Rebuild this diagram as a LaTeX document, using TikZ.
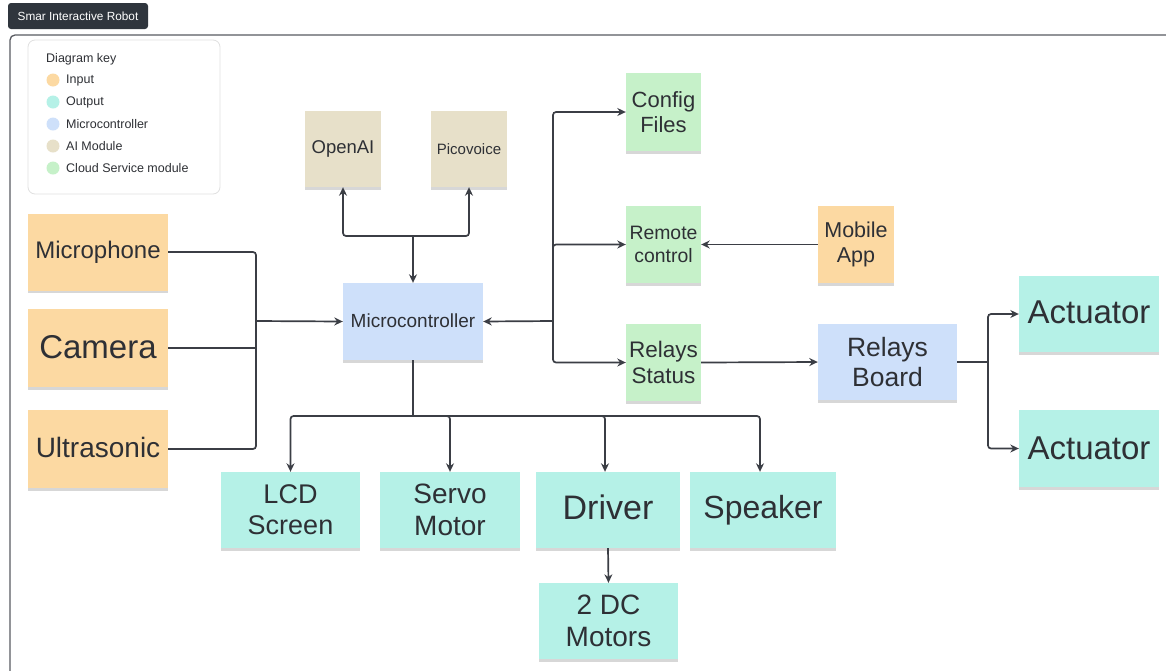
\documentclass[tikz,border=0pt]{standalone}
\usepackage{fontspec}
\setmainfont{Liberation Sans}
\usetikzlibrary{arrows.meta,shadows}
\definecolor{inC}{HTML}{FCD9A2}
\definecolor{outC}{HTML}{B5F1E7}
\definecolor{mcC}{HTML}{CEE0FA}
\definecolor{aiC}{HTML}{E7E0C9}
\definecolor{clC}{HTML}{C6F1C9}
\definecolor{lineC}{HTML}{3B3E45}
\definecolor{txtC}{HTML}{2E3035}
\definecolor{titleC}{HTML}{2F353D}
\newcommand{\fs}[1]{\fontsize{#1}{\fpeval{#1*1.15}}\selectfont}
\tikzset{
  note/.style={draw=none, inner sep=0pt, align=center, text=txtC,
    drop shadow={shadow xshift=-0.5pt, shadow yshift=-2.5pt, opacity=0.22, fill=black!70}},
  innote/.style={note, fill=inC},
  outnote/.style={note, fill=outC},
  mcnote/.style={note, fill=mcC},
  ainote/.style={note, fill=aiC},
  clnote/.style={note, fill=clC},
  conn/.style={draw=lineC, line width=1.7pt, rounded corners=3pt},
  arr/.style={conn, -{Stealth[length=8.5pt,width=8pt]}},
  keydot/.style={circle, inner sep=0pt, minimum size=13pt},
  keytxt/.style={anchor=west, inner sep=0pt, text=txtC, font=\fs{12.5}}
}
\begin{document}
\begin{tikzpicture}[x=1pt,y=-1pt]
\useasboundingbox (0,0) rectangle (1166,670);
\clip (0,0) rectangle (1166,670);
\fill[white] (0,0) rectangle (1166,670);
% title
\node[fill=titleC, rounded corners=3pt, text=white, font=\fs{11.8}, minimum width=140pt, minimum height=26pt, inner sep=0pt] (title) at (78,16) {Smar Interactive Robot};
% frame
\draw[draw=lineC!85, line width=1.3pt, rounded corners=5pt] (10,35) rectangle (1200,700);
% legend
\node[draw=black!12, line width=0.8pt, rounded corners=7pt, fill=white, minimum width=192pt, minimum height=154pt, inner sep=0pt] (key) at (124,117) {};
\node[keytxt] (keyt) at (46,59) {Diagram key};
\node[keydot, fill=inC] (d1) at (53,80) {};
\node[keytxt] (k1) at (66,80) {Input};
\node[keydot, fill=outC] (d2) at (53,102) {};
\node[keytxt] (k2) at (66,102) {Output};
\node[keydot, fill=mcC] (d3) at (53,124) {};
\node[keytxt] (k3) at (66,124) {Microcontroller};
\node[keydot, fill=aiC] (d4) at (53,146) {};
\node[keytxt] (k4) at (66,146) {AI Module};
\node[keydot, fill=clC] (d5) at (53,168) {};
\node[keytxt] (k5) at (66,168) {Cloud Service module};
% inputs
\node[innote, minimum width=140pt, minimum height=77pt, font=\fs{24}] (mic) at (98,252) {\raisebox{4pt}{Microphone}};
\node[innote, minimum width=140pt, minimum height=78pt, font=\fs{33}] (cam) at (98,348) {\raisebox{3pt}{Camera}};
\node[innote, minimum width=140pt, minimum height=78pt, font=\fs{28}] (ult) at (98,449) {\raisebox{3pt}{Ultrasonic}};
% AI
\node[ainote, minimum width=76pt, minimum height=76pt, font=\fs{18.5}] (openai) at (343,149) {\raisebox{3pt}{OpenAI}};
\node[ainote, minimum width=76pt, minimum height=76pt, font=\fs{15}] (pico) at (469,149) {Picovoice};
% mcu
\node[mcnote, minimum width=140pt, minimum height=77pt, font=\fs{19}] (mcu) at (413,321.5) {\raisebox{2pt}{Microcontroller}};
% cloud
\node[clnote, minimum width=75pt, minimum height=78pt, font=\fs{22}] (cfg) at (663.5,112) {Config\\Files};
\node[clnote, minimum width=75pt, minimum height=77pt, font=\fs{19.4}] (rem) at (663.5,244.5) {Remote\\control};
\node[clnote, minimum width=75pt, minimum height=77pt, font=\fs{22.5}] (rst) at (663.5,362.5) {Relays\\Status};
\node[innote, minimum width=76pt, minimum height=77pt, font=\fs{21.5}] (app) at (856,244.5) {Mobile\\App};
\node[mcnote, minimum width=139pt, minimum height=76pt, font=\fs{26.5}] (rb) at (887.5,362) {Relays\\Board};
\node[outnote, minimum width=140pt, minimum height=76pt, font=\fs{33}] (act1) at (1089,314) {\raisebox{4pt}{Actuator}};
\node[outnote, minimum width=140pt, minimum height=77pt, font=\fs{33}] (act2) at (1089,448.5) {\raisebox{1pt}{Actuator}};
% outputs
\node[outnote, minimum width=139pt, minimum height=76pt, font=\fs{27}] (lcd) at (290.5,510) {LCD\\Screen};
\node[outnote, minimum width=140pt, minimum height=76pt, font=\fs{28}] (servo) at (450,510) {Servo\\Motor};
\node[outnote, minimum width=144pt, minimum height=76pt, font=\fs{34}] (drv) at (608,510) {\raisebox{5pt}{Driver}};
\node[outnote, minimum width=146pt, minimum height=76pt, font=\fs{32}] (spk) at (763,510) {\raisebox{2pt}{Speaker}};
\node[outnote, minimum width=139pt, minimum height=76pt, font=\fs{28}] (dc) at (608.5,621) {2 DC\\Motors};
% junctions
\coordinate (jin) at (256,321);
\coordinate (jai) at (413,236);
\coordinate (jcl) at (553,321);
\coordinate (jrb) at (988,362);
\coordinate (jout) at (413,416);
% input connectors
\draw[conn] (mic.east) -| (jin);
\draw[conn] (ult.east) -| (jin);
\draw[conn] (cam.east) -- (cam.east -| jin);
\draw[arr] (jin) -- (mcu.west);
% AI connectors
\draw[arr] (jai) -- (mcu.north);
\draw[arr] (jai) -| (openai.south);
\draw[arr] (jai) -| (pico.south);
% cloud connectors
\draw[arr] (jcl) -- (mcu.east);
\draw[arr] (jcl) |- (cfg.west);
\draw[arr] (jcl) |- (rem.west);
\draw[arr] (jcl) |- (rst.west);
\draw[arr] (app.west) -- (rem.east);
\draw[arr] (rst.east) -- (rb.west);
% relays
\draw[conn] (rb.east) -- (jrb);
\draw[arr] (jrb) |- (act1.west);
\draw[arr] (jrb) |- (act2.west);
% outputs
\draw[conn] (mcu.south) -- (jout);
\draw[arr] (jout) -| (lcd.north);
\draw[arr] (jout) -| (servo.north);
\draw[arr] (jout) -| ([xshift=-3pt]drv.north);
\draw[arr] (jout) -| ([xshift=-3pt]spk.north);
\draw[arr] (drv.south) -- (dc.north);
\end{tikzpicture}
\end{document}
